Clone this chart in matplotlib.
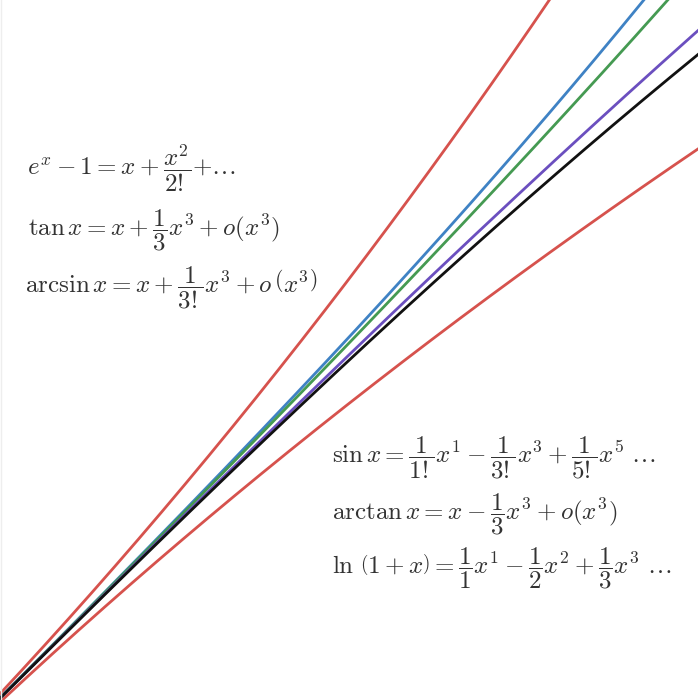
import numpy as np
import matplotlib.pyplot as plt

plt.rcParams['mathtext.fontset'] = 'cm'

# sample points along x (data units)
x = np.linspace(0.0, 0.6, 400)

names = ['exp', 'ln', 'tan', 'arcsin', 'sin', 'arctan']
curves = {
    'exp': np.exp(x) - 1,
    'ln': np.log(1 + x),
    'tan': np.tan(x),
    'arcsin': np.arcsin(x),
    'sin': np.sin(x),
    'arctan': np.arctan(x),
}
colors = {
    'exp': '#d6524d',
    'ln': '#d6524d',
    'tan': '#3f82c4',
    'arcsin': '#459a52',
    'sin': '#6b4fbf',
    'arctan': '#111111',
}

left_labels = [
    r'$e^x-1=x+\dfrac{x^2}{2!}{+}\ldots$',
    r'$\tan x=x+\dfrac{1}{3}x^3+o(x^3)$',
    r'$\arcsin x=x+\dfrac{1}{3!}x^3+o\,\left(x^3\right)$',
]
right_labels = [
    r'$\sin x=\dfrac{1}{1!}x^1-\dfrac{1}{3!}x^3+\dfrac{1}{5!}x^5\ \ldots$',
    r'$\arctan x=x-\dfrac{1}{3}x^3+o(x^3)$',
    r'$\ln\,\left(1+x\right)=\dfrac{1}{1}x^1-\dfrac{1}{2}x^2+\dfrac{1}{3}x^3\ \ldots$',
]

fig = plt.figure(figsize=(6.98, 7.0), dpi=100)
ax = fig.add_axes([0, 0, 1, 1])

for n in names:
    ax.plot(x, curves[n], color=colors[n], lw=2.0, solid_capstyle='butt')

ax.set_xlim(0.0701, 0.4747)
ax.set_ylim(0.0690, 0.4748)
ax.axis('off')

# faint left border
fig.add_artist(plt.Line2D([0.001, 0.001], [0, 1], color='#eeeeee', lw=1))

left_y = [168, 230, 288]
left_x = [27, 28, 25]
for lab, xx, yy in zip(left_labels, left_x, left_y):
    fig.text(xx / 698, 1 - yy / 700, lab, fontsize=18, color='#333333',
             ha='left', va='center')

right_y = [458, 514, 568]
for lab, yy in zip(right_labels, right_y):
    fig.text(332 / 698, 1 - yy / 700, lab, fontsize=18, color='#333333',
             ha='left', va='center')

fig.savefig('out.png', dpi=100)
